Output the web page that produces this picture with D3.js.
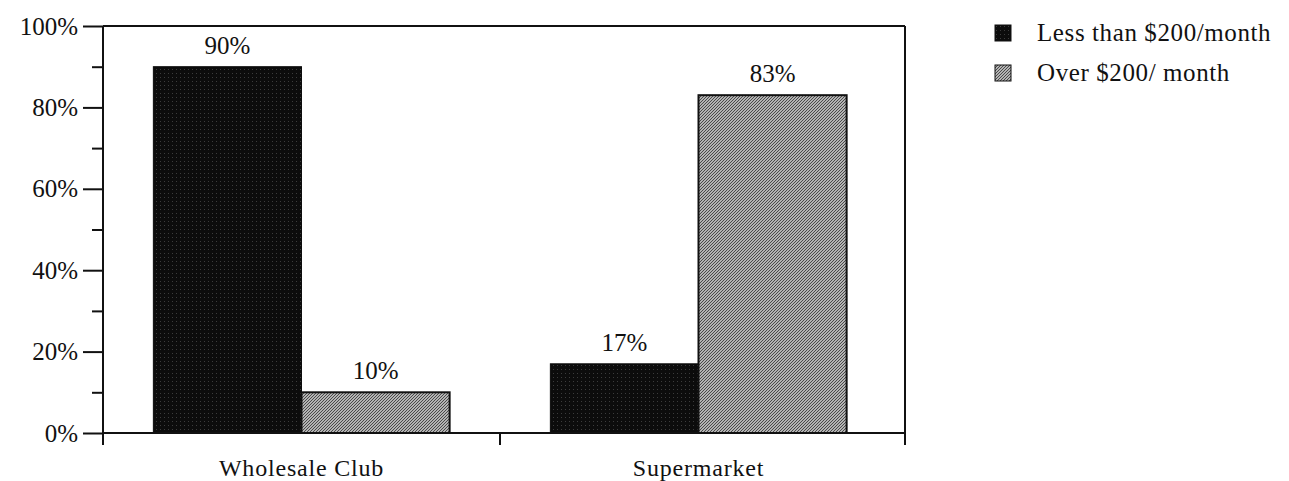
<!DOCTYPE html>
<html>
<head>
<meta charset="utf-8">
<script src="https://cdn.jsdelivr.net/npm/d3@7/dist/d3.min.js"></script>
<style>
  html, body { margin: 0; padding: 0; background: #fff; }
  svg { display: block; }
  text { font-family: "Liberation Serif", "Times New Roman", serif; fill: #111; }
</style>
</head>
<body>
<svg id="chart" width="1289" height="481"></svg>
<script>
// Share of shoppers by monthly grocery spend, per store type
const categories = ["Wholesale Club", "Supermarket"];
const seriesNames = ["Less than $200/month", "Over $200/ month"];
const lessThan200 = [90, 17];
const over200 = [10, 83];
const yTicks = [0, 20, 40, 60, 80, 100];
const yMinorTicks = [10, 30, 50, 70, 90];

const svg = d3.select("#chart");
// The category bands stop a little short of the right frame edge
const plot = { left: 103, right: 905, bandRight: 897, top: 26, bottom: 433 };

// Fill patterns: dark stippled and grey hatched
const defs = svg.append("defs");
const dark = defs.append("pattern").attr("id", "pat-dark")
  .attr("patternUnits", "userSpaceOnUse").attr("width", 4).attr("height", 4);
dark.append("rect").attr("width", 4).attr("height", 4).attr("fill", "#0c0c0c");
dark.append("rect").attr("x", 1).attr("y", 1).attr("width", 1).attr("height", 1).attr("fill", "#3c3c3c");

const grey = defs.append("pattern").attr("id", "pat-grey")
  .attr("patternUnits", "userSpaceOnUse").attr("width", 3).attr("height", 3);
grey.append("rect").attr("width", 3).attr("height", 3).attr("fill", "#b4b4b4");
grey.append("path").attr("d", "M-1,1 L1,-1 M0,3 L3,0 M2,4 L4,2")
  .attr("stroke", "#4a4a4a").attr("stroke-width", 1);

const fills = ["url(#pat-dark)", "url(#pat-grey)"];
const strokes = ["#0c0c0c", "#111"];

const x0 = d3.scaleBand().domain(categories).range([plot.left, plot.bandRight]).paddingInner(0).paddingOuter(0);
const x1 = d3.scaleBand().domain(seriesNames).range([0, x0.bandwidth()]).paddingInner(0).paddingOuter(0.34);
const y = d3.scaleLinear().domain([0, 100]).range([plot.bottom, plot.top]);

const rows = categories.map((c, i) => ({
  category: c,
  values: [
    { series: seriesNames[0], value: lessThan200[i], idx: 0 },
    { series: seriesNames[1], value: over200[i], idx: 1 }
  ]
}));

// Bars
const groups = svg.append("g").selectAll("g").data(rows).join("g")
  .attr("transform", d => `translate(${x0(d.category)},0)`);

groups.selectAll("rect").data(d => d.values).join("rect")
  .attr("x", d => x1(d.series))
  .attr("y", d => y(d.value))
  .attr("width", x1.bandwidth())
  .attr("height", d => y(0) - y(d.value))
  .attr("fill", d => fills[d.idx])
  .attr("stroke", d => strokes[d.idx])
  .attr("stroke-width", d => d.idx === 1 ? 2 : 1);

// Value labels
groups.selectAll("text.val").data(d => d.values).join("text")
  .attr("class", "val")
  .attr("x", d => x1(d.series) + x1.bandwidth() / 2)
  .attr("y", d => y(d.value) - 13)
  .attr("text-anchor", "middle")
  .attr("font-size", 25)
  .text(d => d.value + "%");

// Frame: top and right borders
const frame = svg.append("g").attr("stroke", "#111").attr("fill", "none");
frame.append("line").attr("x1", plot.left).attr("x2", plot.right)
  .attr("y1", plot.top).attr("y2", plot.top).attr("stroke-width", 2);
frame.append("line").attr("x1", plot.right).attr("x2", plot.right)
  .attr("y1", plot.top).attr("y2", plot.bottom + 12).attr("stroke-width", 2);

// Y axis
const yAxis = d3.axisLeft(y).tickValues(yTicks).tickSize(20).tickPadding(5)
  .tickFormat(d => d + "%");
const yG = svg.append("g").attr("transform", `translate(${plot.left},0)`).call(yAxis);
yG.select(".domain").remove();
yG.selectAll(".tick line").attr("stroke", "#111").attr("stroke-width", 2);
yG.selectAll(".tick text").attr("font-size", 25).attr("fill", "#111")
  .attr("font-family", "Liberation Serif, Times New Roman, serif");

const yMinor = d3.axisLeft(y).tickValues(yMinorTicks).tickSize(11).tickFormat("");
const yMG = svg.append("g").attr("transform", `translate(${plot.left},0)`).call(yMinor);
yMG.select(".domain").remove();
yMG.selectAll(".tick line").attr("stroke", "#111").attr("stroke-width", 2);

svg.append("line").attr("x1", plot.left).attr("x2", plot.left)
  .attr("y1", plot.top).attr("y2", plot.bottom + 12)
  .attr("stroke", "#111").attr("stroke-width", 2);

// X axis baseline with boundary ticks at the start of each category
svg.append("line").attr("x1", plot.left).attr("x2", plot.right)
  .attr("y1", plot.bottom).attr("y2", plot.bottom)
  .attr("stroke", "#111").attr("stroke-width", 2);
svg.append("g").selectAll("line").data(categories).join("line")
  .attr("x1", d => x0(d)).attr("x2", d => x0(d))
  .attr("y1", plot.bottom).attr("y2", plot.bottom + 12)
  .attr("stroke", "#111").attr("stroke-width", 2);

svg.append("g").selectAll("text").data(categories).join("text")
  .attr("x", d => x0(d) + x0.bandwidth() / 2)
  .attr("y", 476)
  .attr("text-anchor", "middle")
  .attr("font-size", 24)
  .attr("letter-spacing", 0.8)
  .text(d => d);

// Legend
const legend = svg.append("g").attr("transform", "translate(995,0)");
const li = legend.selectAll("g").data(seriesNames).join("g")
  .attr("transform", (d, i) => `translate(0,${25 + i * 40})`);
li.append("rect")
  .attr("width", 16).attr("height", 16)
  .attr("fill", (d, i) => fills[i])
  .attr("stroke", "#111").attr("stroke-width", 1);
li.append("text")
  .attr("x", 42).attr("y", 16)
  .attr("font-size", 25)
  .attr("letter-spacing", 0.6)
  .text(d => d);
</script>
</body>
</html>
